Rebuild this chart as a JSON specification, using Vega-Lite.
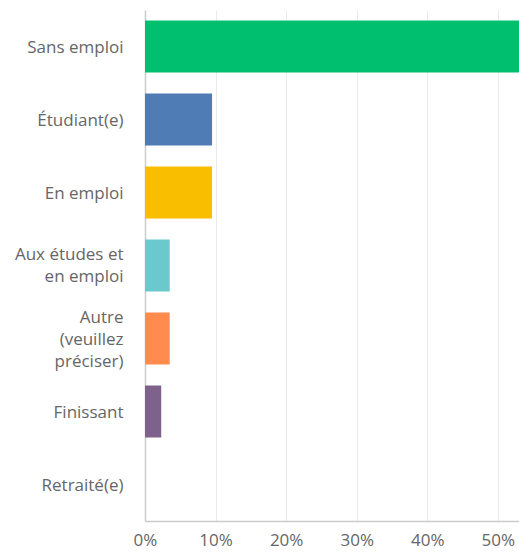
{
  "$schema": "https://vega.github.io/schema/vega-lite/v6.json",
  "width": 374,
  "height": 511,
  "autosize": {"type": "none"},
  "padding": {"left": 145, "top": 10, "right": 0, "bottom": 32},
  "background": "white",
  "data": {
    "values": [
      {"cat": "Sans emploi", "label": "Sans emploi", "value": 0.724},
      {"cat": "Étudiant(e)", "label": "Étudiant(e)", "value": 0.095},
      {"cat": "En emploi", "label": "En emploi", "value": 0.095},
      {"cat": "Aux études et en emploi", "label": "Aux études et|en emploi", "value": 0.035},
      {"cat": "Autre (veuillez préciser)", "label": "Autre|(veuillez|préciser)", "value": 0.035},
      {"cat": "Finissant", "label": "Finissant", "value": 0.023},
      {"cat": "Retraité(e)", "label": "Retraité(e)", "value": 0}
    ]
  },
  "mark": {"type": "bar", "clip": true},
  "encoding": {
    "y": {
      "field": "label",
      "type": "nominal",
      "sort": null,
      "scale": {"paddingInner": 0.29, "paddingOuter": 0.145},
      "axis": {
        "title": null,
        "labelExpr": "split(datum.value, '|')",
        "labelFont": "Open Sans",
        "labelFontSize": 17,
        "labelColor": "#666666",
        "labelLineHeight": 22,
        "labelBaseline": "middle",
        "labelOffset": {
          "condition": [
            {"test": "length(split(datum.value, '|')) == 3", "value": -21},
            {"test": "length(split(datum.value, '|')) == 2", "value": -11}
          ],
          "value": 1
        },
        "labelPadding": 22,
        "ticks": false,
        "domain": true,
        "domainColor": "#cccccc",
        "domainWidth": 1.5,
        "labelLimit": 200
      }
    },
    "x": {
      "field": "value",
      "type": "quantitative",
      "scale": {"domain": [0, 0.53], "nice": false, "zero": true},
      "axis": {
        "title": null,
        "format": ".0%",
        "values": [0, 0.1, 0.2, 0.3, 0.4, 0.5],
        "labelFont": "Open Sans",
        "labelFontSize": 17,
        "labelColor": "#666666",
        "labelPadding": 11,
        "labelFlush": false,
        "ticks": false,
        "grid": true,
        "gridColor": "#ebebeb",
        "domain": true,
        "domainColor": "#cccccc",
        "domainWidth": 1.5
      }
    },
    "color": {
      "field": "label",
      "type": "nominal",
      "sort": null,
      "legend": null,
      "scale": {
        "domain": ["Sans emploi", "Étudiant(e)", "En emploi", "Aux études et|en emploi", "Autre|(veuillez|préciser)", "Finissant", "Retraité(e)"],
        "range": ["#00BF6F", "#507CB6", "#F9BE00", "#6BC8CD", "#FF8B4F", "#7F628B", "#DF4C60"]
      }
    }
  },
  "config": {"view": {"stroke": null}}
}
